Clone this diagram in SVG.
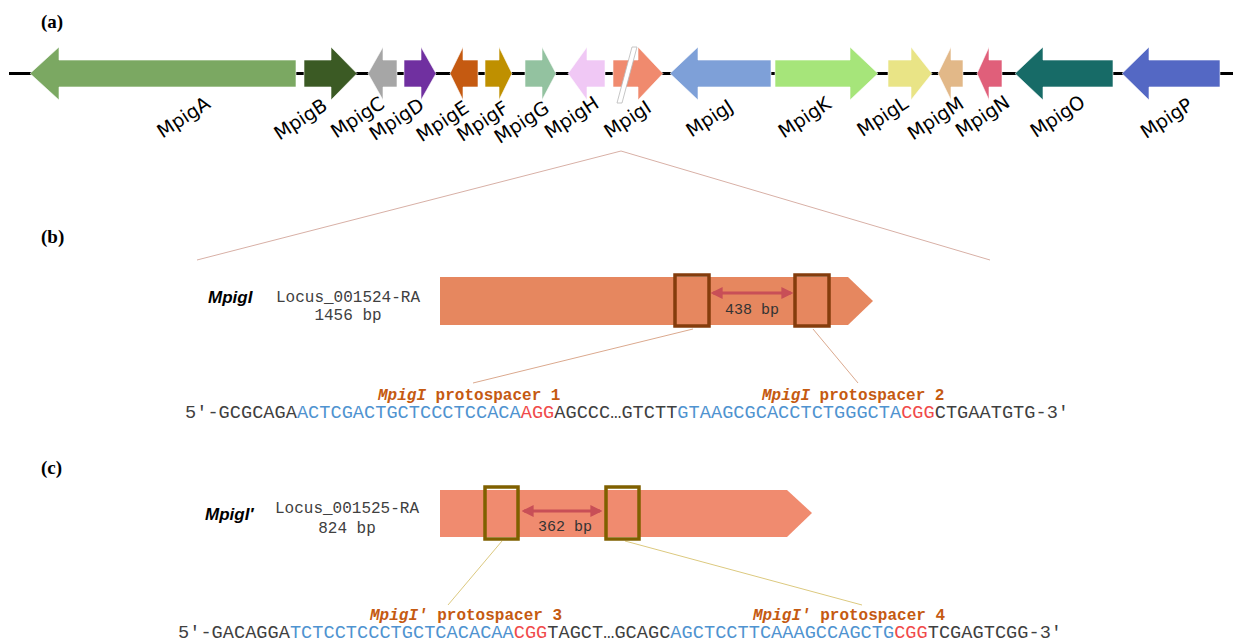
<svg xmlns="http://www.w3.org/2000/svg" width="1233" height="643" viewBox="0 0 1233 643">
  <defs>
    <marker id="dbl" viewBox="0 0 10 10" refX="8" refY="5" markerWidth="4" markerHeight="4" orient="auto-start-reverse" markerUnits="strokeWidth">
      <path d="M0,0 L10,5 L0,10 z" fill="#c84f57"/>
    </marker>
    <style>
      .panel { font-family: "Liberation Serif", serif; font-weight: bold; font-size: 19px; fill: #000; }
      .gl { font-family: "DejaVu Sans", sans-serif; font-size: 19px; fill: #000; text-anchor: middle; }
      .gene { stroke: #ffffff; stroke-opacity: 0.6; stroke-width: 1; }
      .name { font-family: "Liberation Sans", Arial, sans-serif; font-weight: bold; font-style: italic; font-size: 17px; fill: #000; }
      .locus { font-family: "Liberation Mono", monospace; font-size: 16px; fill: #404040; }
      .bp { font-family: "Liberation Mono", monospace; font-size: 15px; fill: #333; text-anchor: middle; }
      .seq { font-family: "Liberation Mono", monospace; font-size: 18.6px; fill: #404040; }
      .ps { fill: #4f93d0; }
      .pam { fill: #f04a4a; }
      .plab { font-family: "Liberation Mono", monospace; font-weight: bold; font-size: 16px; fill: #c55a11; }
      .span { stroke: #c84f57; stroke-width: 3; marker-start: url(#dbl); marker-end: url(#dbl); }
    </style>
  </defs>

  <!-- panel letters -->
  <text class="panel" x="41" y="28">(a)</text>
  <text class="panel" x="41" y="243">(b)</text>
  <text class="panel" x="41" y="474">(c)</text>

  <!-- chromosome backbone -->
  <line x1="9" y1="73.5" x2="1233" y2="73.5" stroke="#000" stroke-width="3"/>

  <!-- gene cluster -->
  <g id="MpigA"><polygon class="gene" fill="#7ba862" points="30,73.5 59,47 59,60 296,60 296,87 59,87 59,100"/><text class="gl" transform="translate(184,118) rotate(-33)" dy="0.3em">MpigA</text></g>
  <g id="MpigB"><polygon class="gene" fill="#3b5a24" points="304,60 331,60 331,47 357,73.5 331,100 331,87 304,87"/><text class="gl" transform="translate(301,120) rotate(-33)" dy="0.3em">MpigB</text></g>
  <g id="MpigC"><polygon class="gene" fill="#a6a6a6" points="368,73.5 383,47 383,60 397,60 397,87 383,87 383,100"/><text class="gl" transform="translate(358,118) rotate(-33)" dy="0.3em">MpigC</text></g>
  <g id="MpigD"><polygon class="gene" fill="#7030a0" points="404,60 421,60 421,47 436,73.5 421,100 421,87 404,87"/><text class="gl" transform="translate(397,120) rotate(-33)" dy="0.3em">MpigD</text></g>
  <g id="MpigE"><polygon class="gene" fill="#c55a11" points="450,73.5 463,47 463,60 478,60 478,87 463,87 463,100"/><text class="gl" transform="translate(443,122) rotate(-33)" dy="0.3em">MpigE</text></g>
  <g id="MpigF"><polygon class="gene" fill="#bf9000" points="485,60 499,60 499,47 512,73.5 499,100 499,87 485,87"/><text class="gl" transform="translate(483,122) rotate(-33)" dy="0.3em">MpigF</text></g>
  <g id="MpigG"><polygon class="gene" fill="#93c2a0" points="525,60 542,60 542,47 556,73.5 542,100 542,87 525,87"/><text class="gl" transform="translate(522,123) rotate(-33)" dy="0.3em">MpigG</text></g>
  <g id="MpigH"><polygon class="gene" fill="#f0c8f5" points="568,73.5 587,47 587,60 605,60 605,87 587,87 587,100"/><text class="gl" transform="translate(572,118) rotate(-33)" dy="0.3em">MpigH</text></g>
  <g id="MpigI">
    <polygon class="gene" fill="#f08a6e" points="613,60 638,60 638,47 663,73.5 638,100 638,87 613,87"/>
    <polygon points="632,47 637,47 622,103 617,103" fill="#fff" stroke="#b8b8b8" stroke-width="0.8"/>
    <text class="gl" transform="translate(628,120) rotate(-33)" dy="0.3em">MpigI</text>
  </g>
  <g id="MpigJ"><polygon class="gene" fill="#7ea0d8" points="670,73.5 698,47 698,60 771,60 771,87 698,87 698,100"/><text class="gl" transform="translate(710,119) rotate(-33)" dy="0.3em">MpigJ</text></g>
  <g id="MpigK"><polygon class="gene" fill="#a6e57a" points="775,60 850,60 850,47 878,73.5 850,100 850,87 775,87"/><text class="gl" transform="translate(805,118) rotate(-33)" dy="0.3em">MpigK</text></g>
  <g id="MpigL"><polygon class="gene" fill="#e9e486" points="888,60 911,60 911,47 932,73.5 911,100 911,87 888,87"/><text class="gl" transform="translate(883,117) rotate(-33)" dy="0.3em">MpigL</text></g>
  <g id="MpigM"><polygon class="gene" fill="#e2b888" points="938,73.5 951,47 951,60 963,60 963,87 951,87 951,100"/><text class="gl" transform="translate(936,119) rotate(-33)" dy="0.3em">MpigM</text></g>
  <g id="MpigN"><polygon class="gene" fill="#e05f7a" points="977,73.5 989,47 989,60 1002,60 1002,87 989,87 989,100"/><text class="gl" transform="translate(983,117) rotate(-33)" dy="0.3em">MpigN</text></g>
  <g id="MpigO"><polygon class="gene" fill="#176b67" points="1015,73.5 1043,47 1043,60 1113,60 1113,87 1043,87 1043,100"/><text class="gl" transform="translate(1058,117) rotate(-33)" dy="0.3em">MpigO</text></g>
  <g id="MpigP"><polygon class="gene" fill="#5468c4" points="1122,73.5 1149,47 1149,60 1220,60 1220,87 1149,87 1149,100"/><text class="gl" transform="translate(1167,119) rotate(-33)" dy="0.3em">MpigP</text></g>

  <!-- connectors: zoom-out lines and protospacer leaders -->
  <g id="connectors" fill="none" stroke-width="1">
    <polyline points="197,260 621,151 990,260" stroke="#d8b0a6"/>
    <line x1="693" y1="329" x2="473" y2="383" stroke="#dba98e"/>
    <line x1="813" y1="329" x2="858" y2="383" stroke="#dba98e"/>
    <line x1="502" y1="541" x2="448" y2="605" stroke="#dcc97f"/>
    <line x1="625" y1="541" x2="862" y2="605" stroke="#dcc97f"/>
  </g>

  <!-- panel b: MpigI gene model -->
  <g id="gene-MpigI">
    <text class="name" x="208" y="303">MpigI</text>
    <text class="locus" x="276" y="302">Locus_001524-RA</text>
    <text class="locus" x="348" y="320" text-anchor="middle">1456 bp</text>
    <polygon fill="#e6875f" points="440,277 848,277 873,301 848,325 440,325"/>
  </g>
  <g id="ps1-box"><rect x="675" y="275" width="34" height="51" fill="none" stroke="#843c0c" stroke-width="3.5"/></g>
  <g id="ps2-box"><rect x="795" y="275" width="34" height="51" fill="none" stroke="#843c0c" stroke-width="3.5"/></g>
  <g id="span-b">
    <line class="span" x1="713" y1="293" x2="791" y2="293"/>
    <text class="bp" x="752" y="314">438 bp</text>
  </g>
  <g id="seq-b">
    <text class="plab" x="378" y="400"><tspan font-style="italic">MpigI</tspan> protospacer 1</text>
    <text class="plab" x="762" y="400"><tspan font-style="italic">MpigI</tspan> protospacer 2</text>
    <text class="seq" x="185" y="418" textLength="884" lengthAdjust="spacing">5′-GCGCAGA<tspan class="ps">ACTCGACTGCTCCCTCCACA</tspan><tspan class="pam">AGG</tspan>AGCCC…GTCTT<tspan class="ps">GTAAGCGCACCTCTGGGCTA</tspan><tspan class="pam">CGG</tspan>CTGAATGTG-3′</text>
  </g>

  <!-- panel c: MpigI' gene model -->
  <g id="gene-MpigI2">
    <text class="name" x="205" y="520">MpigI′</text>
    <text class="locus" x="275" y="513">Locus_001525-RA</text>
    <text class="locus" x="347" y="533" text-anchor="middle">824 bp</text>
    <polygon fill="#f08b6f" points="440,490 787,490 812,513 787,537 440,537"/>
  </g>
  <g id="ps3-box"><rect x="485" y="487" width="33" height="52" fill="none" stroke="#7f6000" stroke-width="3.5"/></g>
  <g id="ps4-box"><rect x="606" y="487" width="33" height="52" fill="none" stroke="#7f6000" stroke-width="3.5"/></g>
  <g id="span-c">
    <line class="span" x1="524" y1="511" x2="600" y2="511"/>
    <text class="bp" x="565" y="531">362 bp</text>
  </g>
  <g id="seq-c">
    <text class="plab" x="370" y="620"><tspan font-style="italic">MpigI′</tspan> protospacer 3</text>
    <text class="plab" x="753" y="620"><tspan font-style="italic">MpigI′</tspan> protospacer 4</text>
    <text class="seq" x="178" y="638" textLength="884" lengthAdjust="spacing">5′-GACAGGA<tspan class="ps">TCTCCTCCCTGCTCACACAA</tspan><tspan class="pam">CGG</tspan>TAGCT…GCAGC<tspan class="ps">AGCTCCTTCAAAGCCAGCTG</tspan><tspan class="pam">CGG</tspan>TCGAGTCGG-3′</text>
  </g>
</svg>
